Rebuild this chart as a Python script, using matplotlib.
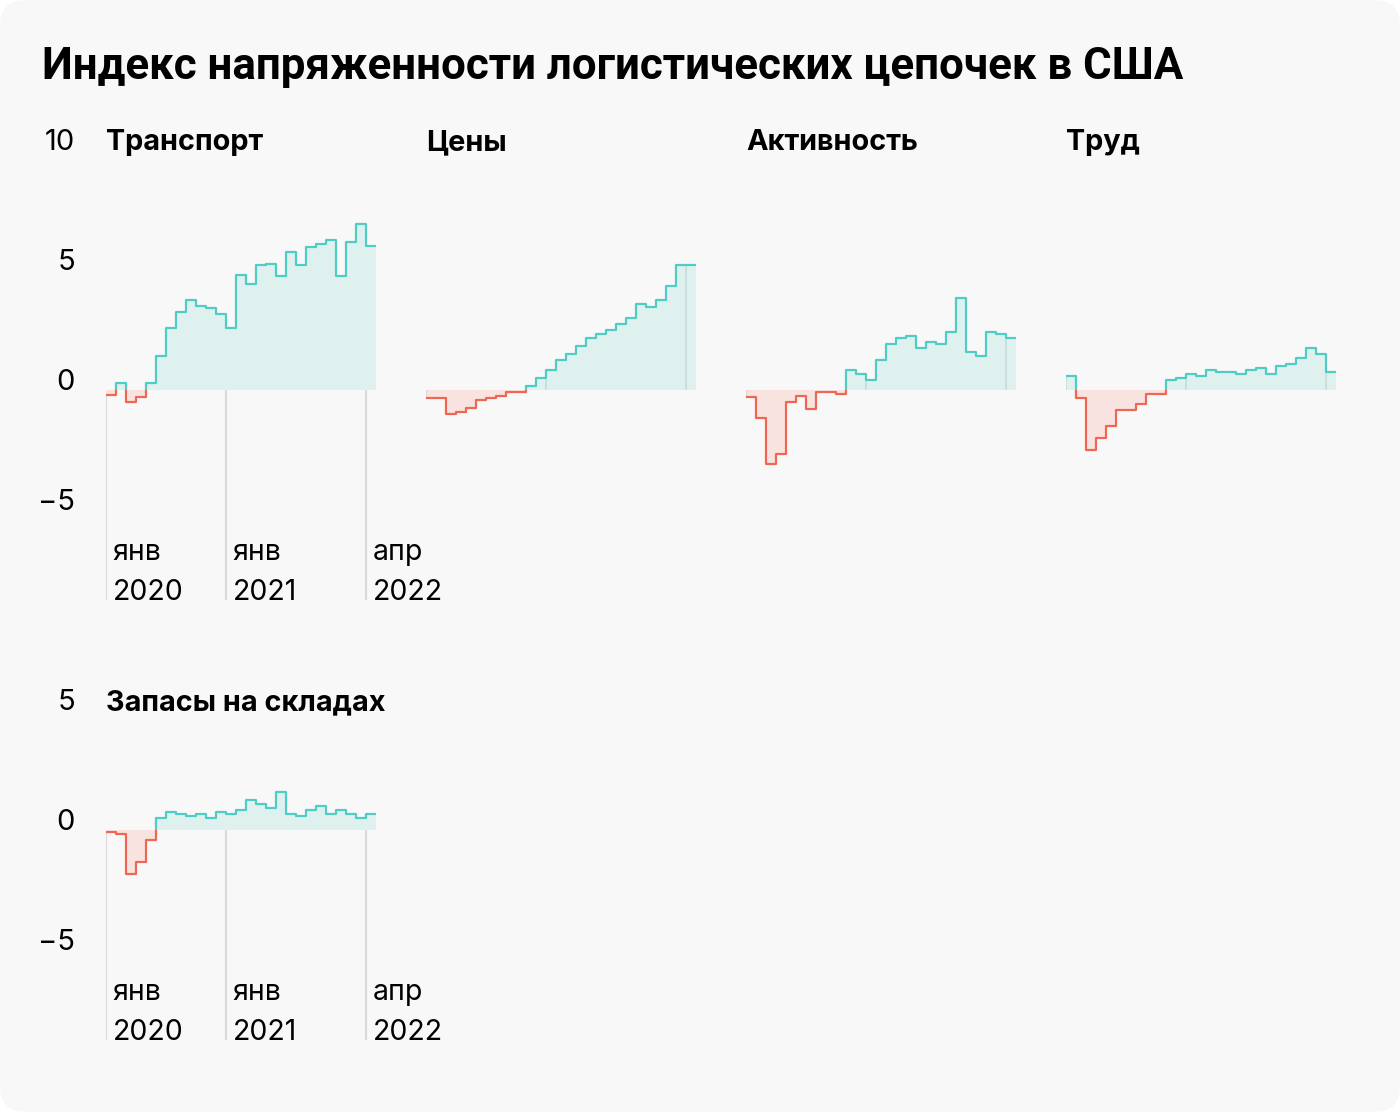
import numpy as np
import matplotlib.pyplot as plt
from matplotlib.patches import FancyBboxPatch, Rectangle

plt.rcParams['font.family'] = ['Inter', 'DejaVu Sans']

# Monthly index values, Jan 2020 .. Apr 2022
transport = [-0.2, 0.3, -0.5, -0.3, 0.3, 1.4, 2.6, 3.25, 3.75, 3.5, 3.4, 3.15, 2.6, 4.8,
             4.4, 5.2, 5.25, 4.75, 5.75, 5.2, 5.95, 6.1, 6.25, 4.75, 6.15, 6.9, 6.0]
prices = [-0.33, -0.33, -1.0, -0.9, -0.75, -0.4, -0.32, -0.24, -0.08, -0.08, 0.18, 0.5,
          0.85, 1.25, 1.5, 1.85, 2.15, 2.33, 2.5, 2.75, 3.0, 3.6, 3.45, 3.75, 4.35, 5.2, 5.2]
activity = [-0.3, -1.15, -3.07, -2.65, -0.5, -0.25, -0.8, -0.08, -0.08, -0.15, 0.85, 0.68,
            0.43, 1.25, 1.93, 2.17, 2.25, 1.75, 2.0, 1.93, 2.43, 3.85, 1.6, 1.43, 2.43, 2.35, 2.18]
labour = [0.6, -0.32, -2.5, -2.0, -1.5, -0.82, -0.82, -0.57, -0.15, -0.15, 0.43, 0.5, 0.68,
          0.6, 0.85, 0.76, 0.76, 0.68, 0.85, 0.93, 0.68, 1.0, 1.1, 1.35, 1.75, 1.5, 0.76]
stocks = [-0.07, -0.15, -1.82, -1.32, -0.4, 0.5, 0.76, 0.68, 0.6, 0.68, 0.5, 0.76, 0.68,
          0.85, 1.25, 1.1, 0.93, 1.6, 0.68, 0.6, 0.85, 1.0, 0.68, 0.85, 0.68, 0.5, 0.68]

panel_titles = ["Транспорт", "Цены", "Активность", "Труд", "Запасы на складах"]
panel_data = [transport, prices, activity, labour, stocks]

marks = [0, 12, 26]          # month index of the date marks
mark_months = ["янв", "янв", "апр"]
mark_years = ["2020", "2021", "2022"]

TEAL = "#4fcdc4"
TEAL_FILL = "#dff1ef"
RED = "#ef6652"
RED_FILL = "#f9e3e0"
GRID = "#d9d9d9"

W, H = 1400, 1112
fig = plt.figure(figsize=(W / 100, H / 100), dpi=100)
fig.patch.set_facecolor("white")

# rounded card in the background
bg = fig.add_axes([0, 0, 1, 1], zorder=-5)
bg.set_xlim(0, W)
bg.set_ylim(H, 0)
bg.axis("off")
bg.add_patch(FancyBboxPatch((0, 0), W, H, boxstyle="round,pad=0,rounding_size=26",
                            facecolor="#f8f8f8", edgecolor="none"))
bg.text(42, 79, "Индекс напряженности логистических цепочек в США", fontsize=31.6,
        fontweight="bold", ha="left", va="baseline", color="black",
        family=["Roboto", "DejaVu Sans"])


def pix_axes(left, top_px, bottom_px):
    # axes 270 px wide placed by pixel positions
    return fig.add_axes([left / W, 1 - bottom_px / H, 270 / W, (bottom_px - top_px) / H])


def draw_panel(ax, values, title, ticks, labels_below):
    vals = np.array(values)
    n = len(vals)
    edges = np.arange(n + 1)
    ext = np.append(vals, vals[-1])
    ax.set_xlim(0, n)
    ax.axis("off")

    # gridlines at date marks
    for m in marks:
        if labels_below:
            ax.vlines(m, -8.75, vals[m], color=GRID, lw=1.5, zorder=1)
        else:
            ax.vlines(m, 0, vals[m], color=(0, 0, 0, 0.08), lw=1.5, zorder=3)

    # positive part teal, negative part red
    for color, fill, y0 in [(TEAL, TEAL_FILL, 0), (RED, RED_FILL, -50)]:
        f = ax.fill_between(edges, ext, 0, step="post", color=fill, lw=0, zorder=2)
        line, = ax.step(edges, ext, where="post", color=color, lw=1.6, zorder=4)
        for artist in (f, line):
            artist.set_clip_path(Rectangle((0, y0), n, 50, transform=ax.transData))

    ax.text(0, ticks[0], title, fontsize=20.8, fontweight="bold", ha="left", va="baseline")

    if labels_below:
        for m, mon, yr in zip(marks, mark_months, mark_years):
            ax.text(m + 0.65, -7.08, mon, fontsize=20.5, ha="left", va="baseline")
            ax.text(m + 0.65, -8.75, yr, fontsize=20.5, ha="left", va="baseline")


# top row
lefts = [106, 426, 746, 1066]
for i in range(4):
    ax = pix_axes(lefts[i], 150, 600)
    ax.set_ylim(-8.75, 10)
    draw_panel(ax, panel_data[i], panel_titles[i], [10, 5, 0, -5], i == 0)
    if i == 0:
        for t in [10, 5, 0, -5]:
            ax.text(-3.1, t, str(t).replace("-", "\u2212"), fontsize=21,
                    ha="right", va="baseline")

# bottom row
ax = pix_axes(106, 710, 1040)
ax.set_ylim(-8.75, 5)
draw_panel(ax, stocks, panel_titles[4], [5, 0, -5], True)
for t in [5, 0, -5]:
    ax.text(-3.1, t, str(t).replace("-", "\u2212"), fontsize=21, ha="right", va="baseline")

fig.savefig("out.png", dpi=100, facecolor="white")
